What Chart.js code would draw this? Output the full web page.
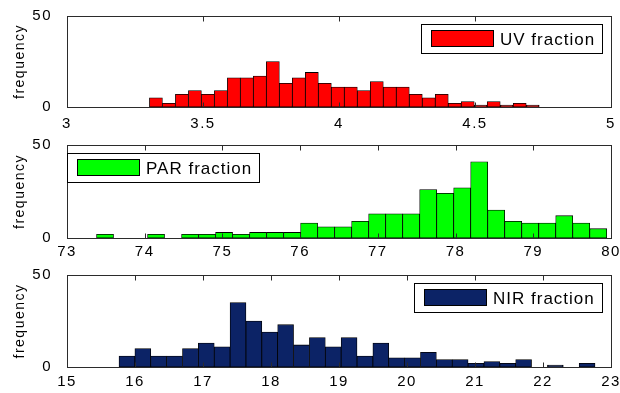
<!DOCTYPE html>
<html>
<head>
<meta charset="utf-8">
<script src="https://cdn.jsdelivr.net/npm/chart.js@4.4.1/dist/chart.umd.min.js"></script>
<style>
  html, body { margin: 0; padding: 0; background: #fff; }
  #wrap { position: relative; width: 620px; height: 393px; overflow: hidden; }
  canvas { position: absolute; left: 0; }
</style>
</head>
<body>
<div id="wrap">
  <canvas id="chart-uv" width="620" height="131" style="top:0px"></canvas>
  <canvas id="chart-par" width="620" height="131" style="top:129px"></canvas>
  <canvas id="chart-nir" width="620" height="131" style="top:259px"></canvas>
</div>
<script>
// ─── data: histogram counts (30 bins each) ───
var uvCounts  = [5, 2, 7, 9, 7, 9, 16, 16, 17, 25, 13, 16, 19, 13, 11, 11, 9, 14, 11, 11, 7, 5, 7, 2, 3, 1, 3, 1, 2, 1];
var uvEdges   = [3.303, 4.736];      // first / last bin edge
var uvTicks   = [3, 3.5, 4, 4.5, 5];

var parCounts = [2, 0, 0, 2, 0, 2, 2, 3, 2, 3, 3, 3, 8, 6, 6, 9, 13, 13, 13, 26, 24, 27, 41, 15, 9, 8, 8, 12, 8, 5];
var parEdges  = [73.38, 79.945];
var parTicks  = [73, 74, 75, 76, 77, 78, 79, 80];

var nirCounts = [6, 10, 6, 6, 10, 13, 11, 35, 25, 19, 23, 12, 16, 11, 16, 6, 13, 5, 5, 8, 4, 4, 2, 3, 2, 4, 0, 1, 0, 2];
var nirEdges  = [15.765, 22.765];
var nirTicks  = [15, 16, 17, 18, 19, 20, 21, 22, 23];

var yTicks = [0, 50];

var FONT = '"Liberation Sans", Arial, Helvetica, sans-serif';

// bin centres from the first/last edge
function binPoints(counts, edges) {
  var w = (edges[1] - edges[0]) / counts.length;
  return counts.map(function (c, i) { return { x: edges[0] + (i + 0.5) * w, y: c }; });
}

// MATLAB-ish box with inward tick marks + legend
var boxPlugin = {
  id: 'matBox',
  beforeDraw: function (chart) { chart.ctx.letterSpacing = '1.5px'; },
  afterDatasetsDraw: function (chart) {
    var ctx = chart.ctx, ca = chart.chartArea;
    var l = Math.round(ca.left) + 0.5, r = Math.round(ca.right) + 0.5;
    var t = Math.round(ca.top) + 0.5, b = Math.round(ca.bottom) + 0.5;
    ctx.save();
    ctx.strokeStyle = '#2b2b2b';
    ctx.lineWidth = 1;
    ctx.strokeRect(l, t, r - l, b - t);
    ctx.beginPath();
    var xs = chart.scales.x;
    xs.ticks.forEach(function (tk) {
      var px = Math.round(xs.getPixelForValue(tk.value)) + 0.5;
      ctx.moveTo(px, b); ctx.lineTo(px, b - 5);
      ctx.moveTo(px, t); ctx.lineTo(px, t + 5);
    });
    var ys = chart.scales.y;
    ys.ticks.forEach(function (tk) {
      var py = Math.round(ys.getPixelForValue(tk.value)) + 0.5;
      ctx.moveTo(l, py); ctx.lineTo(l + 5, py);
      ctx.moveTo(r, py); ctx.lineTo(r - 5, py);
    });
    ctx.stroke();
    ctx.restore();
  },
  afterDraw: function (chart, args, opts) {
    if (!opts || !opts.text) return;
    var ctx = chart.ctx, ca = chart.chartArea;
    ctx.save();
    ctx.font = '17px ' + FONT;
    ctx.letterSpacing = '1px';
    var tw = ctx.measureText(opts.text).width;
    var w = Math.round(10 + 62 + 6 + tw + 8), h = 29;
    var x = opts.corner === 'ne' ? Math.round(ca.right) - 9 - w : Math.round(ca.left);
    var y = Math.round(ca.top) + 8;
    ctx.fillStyle = '#fff';
    ctx.fillRect(x + 0.5, y + 0.5, w, h);
    ctx.strokeStyle = '#000';
    ctx.lineWidth = 1;
    ctx.strokeRect(x + 0.5, y + 0.5, w, h);
    ctx.fillStyle = opts.color;
    ctx.fillRect(x + 10.5, y + 6.5, 62, 16);
    ctx.strokeRect(x + 10.5, y + 6.5, 62, 16);
    ctx.fillStyle = '#000';
    ctx.textBaseline = 'alphabetic';
    ctx.textAlign = 'left';
    ctx.fillText(opts.text, x + 10 + 62 + 7, y + h / 2 + 6.5);
    ctx.restore();
  }
};

function makeHist(id, counts, edges, ticks, color, legendText, corner, bottom, labelPad) {
  var H = 131;
  return new Chart(document.getElementById(id), {
    type: 'bar',
    data: {
      datasets: [{
        data: binPoints(counts, edges),
        backgroundColor: color,
        borderColor: '#000',
        borderWidth: 0.8,
        borderSkipped: false,
        barPercentage: 1,
        categoryPercentage: 1
      }]
    },
    options: {
      responsive: false,
      animation: false,
      devicePixelRatio: 1,
      layout: { padding: { top: 15, right: 9, left: 0, bottom: 0 } },
      plugins: {
        legend: { display: false },
        tooltip: { enabled: false },
        matBox: { text: legendText, color: color, corner: corner }
      },
      scales: {
        x: {
          type: 'linear',
          offset: false,
          min: ticks[0],
          max: ticks[ticks.length - 1],
          afterBuildTicks: function (s) { s.ticks = ticks.map(function (v) { return { value: v }; }); },
          afterFit: function (s) { s.height = H - bottom; },
          grid: { display: false },
          border: { display: false },
          ticks: {
            color: '#000', font: { family: FONT, size: 15 }, padding: labelPad, maxRotation: 0, autoSkip: false,
            callback: function (v) { return String(v); }
          }
        },
        y: {
          min: 0,
          max: 50,
          afterBuildTicks: function (s) { s.ticks = yTicks.map(function (v) { return { value: v }; }); },
          afterFit: function (s) { s.width = 67; },
          grid: { display: false },
          border: { display: false },
          ticks: { color: '#000', font: { family: FONT, size: 15 }, padding: 7 },
          title: { display: true, text: 'frequency', color: '#000', font: { family: FONT, size: 14 }, padding: { top: 12, bottom: 0 } }
        }
      }
    },
    plugins: [boxPlugin]
  });
}

makeHist('chart-uv', uvCounts, uvEdges, uvTicks, '#ff0000', 'UV fraction', 'ne', 107, 0);
makeHist('chart-par', parCounts, parEdges, parTicks, '#00ff00', 'PAR fraction', 'nw', 109, -3);
makeHist('chart-nir', nirCounts, nirEdges, nirTicks, '#0c2366', 'NIR fraction', 'ne', 108, -2);
</script>
</body>
</html>
